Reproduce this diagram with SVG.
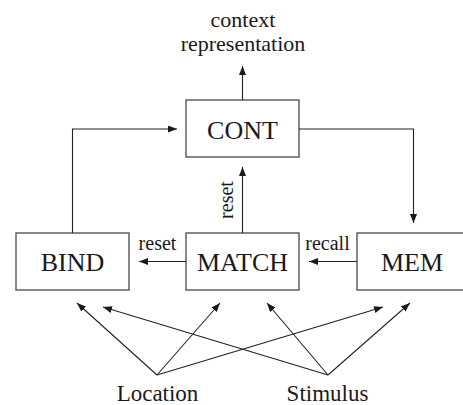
<svg xmlns="http://www.w3.org/2000/svg" width="463" height="405" viewBox="0 0 463 405">
  <style>
    .box { fill: #ffffff; stroke: #555555; stroke-width: 1.4; }
    .label { font-family: "Liberation Serif", "Times New Roman", serif; font-size: 26px; fill: #1a1a1a; text-anchor: middle; }
    .note { font-family: "Liberation Serif", "Times New Roman", serif; font-size: 20px; fill: #1a1a1a; text-anchor: middle; }
    .io { font-family: "Liberation Serif", "Times New Roman", serif; font-size: 23px; fill: #1a1a1a; text-anchor: middle; }
    .top { font-family: "Liberation Serif", "Times New Roman", serif; font-size: 22px; fill: #1a1a1a; text-anchor: middle; }
    .wire { fill: none; stroke: #222222; stroke-width: 1.1; marker-end: url(#head); }
  </style>
  <defs>
    <marker id="head" markerUnits="userSpaceOnUse" markerWidth="10" markerHeight="8" refX="9" refY="3.5" orient="auto">
      <path d="M0,0 L9,3.5 L0,7 Z" fill="#1a1a1a"/>
    </marker>
  </defs>

  <rect width="463" height="405" fill="#ffffff"/>

  <!-- output label -->
  <g id="output">
    <text class="top" x="243" y="27">context</text>
    <text class="top" x="243" y="51">representation</text>
  </g>

  <g id="cont">
    <rect class="box" x="186" y="100" width="113" height="57"/>
    <text class="label" x="242.5" y="139">CONT</text>
  </g>

  <g id="bind">
    <rect class="box" x="16" y="233" width="113" height="57"/>
    <text class="label" x="72.5" y="271">BIND</text>
  </g>

  <g id="match">
    <rect class="box" x="186" y="233" width="113" height="57"/>
    <text class="label" x="242.5" y="271">MATCH</text>
  </g>

  <g id="mem">
    <rect class="box" x="357" y="233" width="113" height="57"/>
    <text class="label" x="412" y="271">MEM</text>
  </g>

  <g id="inputs">
    <text class="io" x="157.5" y="401">Location</text>
    <text class="io" x="327.5" y="401">Stimulus</text>
  </g>

  <g id="connectors">
    <!-- CONT to output -->
    <path class="wire" d="M242.5,100 L242.5,66"/>
    <!-- BIND to CONT -->
    <path class="wire" d="M72.5,233 L72.5,129 L177,129"/>
    <!-- CONT to MEM -->
    <path class="wire" d="M299,129 L413.5,129 L413.5,223"/>
    <!-- MATCH reset to CONT -->
    <path class="wire" d="M242.5,233 L242.5,167"/>
    <text class="note" transform="translate(233,200) rotate(-90)">reset</text>
    <!-- MATCH reset to BIND -->
    <path class="wire" d="M186,261.5 L139,261.5"/>
    <text class="note" x="157.5" y="250">reset</text>
    <!-- MEM recall to MATCH -->
    <path class="wire" d="M357,261.5 L309,261.5"/>
    <text class="note" x="327.5" y="250">recall</text>
    <!-- Location inputs -->
    <path class="wire" d="M157,375 L77,303"/>
    <path class="wire" d="M157,375 L220,303"/>
    <path class="wire" d="M157,375 L383,307"/>
    <!-- Stimulus inputs -->
    <path class="wire" d="M328,375 L103,307"/>
    <path class="wire" d="M328,375 L267,303"/>
    <path class="wire" d="M328,375 L410,303"/>
  </g>
</svg>
